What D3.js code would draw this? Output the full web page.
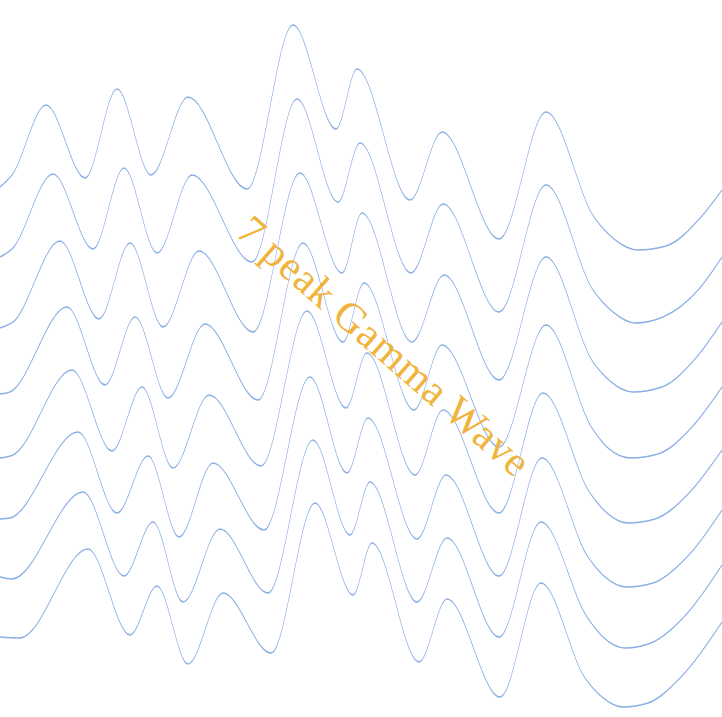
<!DOCTYPE html>
<html>
<head>
<meta charset="utf-8">
<script src="https://cdn.jsdelivr.net/npm/d3@7"></script>
<style>
  html, body { margin: 0; padding: 0; background: #fff; }
  svg { display: block; }
</style>
</head>
<body>
<svg id="chart"></svg>
<script>
const width = 722, height = 717;

const title = "7 peak Gamma Wave";

const wave1 = [[0,187],[12,175],[46,105],[85,178],[117,89],[151,175],[188,97],[247,189],[293,25],[336,129],[357,69],[410,200],[442,132],[499,239],[546,112],[594,217],[614,239],[638,250],[666,246],[701,217],[722,190]];
const wave2 = [[0,257],[12,249],[53,174],[93,249],[124,168],[157,253],[192,175],[252,262],[297,99],[338,202],[360,143],[411,273],[443,204],[499,312],[546,185],[593,290],[613,312],[635,323],[663,317],[699,289],[722,257]];
const wave3 = [[0,328],[13,322],[60,241],[99,319],[130,243],[163,327],[199,251],[253,332],[300,173],[342,273],[362,213],[412,342],[444,275],[499,380],[546,257],[593,362],[610,381],[633,392],[662,387],[695,359],[722,322]];
const wave4 = [[0,394],[10,392],[67,307],[105,385],[135,317],[168,398],[205,324],[258,400],[303,243],[343,342],[364,283],[414,410],[442,345],[499,447],[546,325],[592,428],[608,448],[631,458],[658,454],[692,427],[722,387]];
const wave5 = [[0,458],[13,455],[72,370],[112,451],[142,387],[173,468],[209,395],[261,466],[307,311],[346,408],[367,353],[415,475],[443,410],[499,513],[543,393],[590,493],[607,513],[628,523],[655,519],[689,493],[722,450]];
const wave6 = [[0,519],[10,518],[78,432],[117,513],[148,456],[179,537],[213,463],[264,530],[310,377],[347,473],[368,418],[417,539],[446,475],[499,576],[542,458],[588,557],[605,577],[627,587],[653,583],[687,557],[722,510]];
const wave7 = [[0,577],[12,579],[83,492],[124,576],[153,522],[183,602],[220,529],[268,593],[313,440],[350,535],[370,482],[417,602],[447,538],[499,637],[541,522],[587,617],[603,637],[625,648],[651,643],[683,618],[722,565]];
const wave8 = [[0,637],[20,638],[88,549],[130,635],[157,586],[188,664],[223,593],[271,653],[315,503],[353,595],[372,543],[419,662],[447,599],[500,697],[541,583],[585,678],[602,697],[623,707],[648,703],[680,678],[722,622]];

const waves = [wave1, wave2, wave3, wave4, wave5, wave6, wave7, wave8];

var svg = d3.select("#chart")
    .attr("width", width)
    .attr("height", height)

// the waves sit in a stretched group, so the stroke is thin on steep parts
// and thicker on flat parts
const sx = 0.5, sy = 1.7;

const x = d3.scaleLinear().domain([0, 722]).range([0, width / sx]);
const y = d3.scaleLinear().domain([0, 717]).range([0, height / sy]);

const line = d3.line()
    .x(d => x(d[0]))
    .y(d => y(d[1]))
    .curve(d3.curveMonotoneX);

svg.append("g")
    .attr("transform", "scale(" + sx + "," + sy + ")")
    .selectAll("path")
    .data(waves)
    .join("path")
    .attr("d", line)
    .attr("fill", "none")
    .attr("stroke", "#8aaee6")
    .attr("stroke-width", 1)

// rotated title across the middle
svg.append("text")
    .attr("transform", "translate(384,346) rotate(41)")
    .attr("text-anchor", "middle")
    .attr("dominant-baseline", "central")
    .attr("font-family", "'Liberation Serif', 'DejaVu Serif', serif")
    .attr("font-size", 42)
    .attr("fill", "#f0b43c")
    .attr("textLength", 372)
    .attr("lengthAdjust", "spacing")
    .text(title)
</script>
</body>
</html>
